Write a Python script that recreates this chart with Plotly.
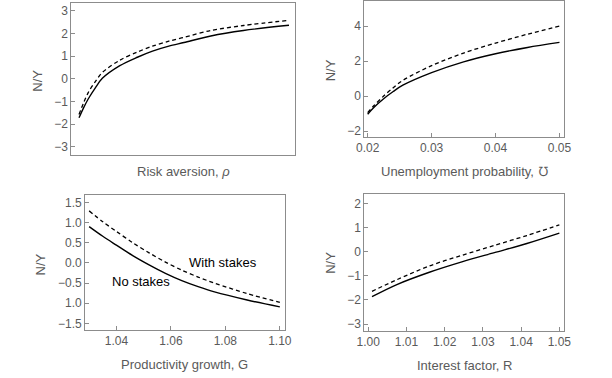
import plotly.graph_objects as go

# ---------------- data ----------------
rho = [1.0, 1.2, 1.4, 1.7, 2.0, 2.75, 3.5, 4.15, 4.85, 5.5, 6.65, 8.05, 10.0]
rho_no = [-1.72, -1.27, -0.88, -0.40, 0.02, 0.58, 0.95, 1.22, 1.44, 1.60, 1.89, 2.13, 2.36]
rho_with = [-1.57, -1.05, -0.60, -0.12, 0.28, 0.82, 1.18, 1.44, 1.66, 1.83, 2.13, 2.35, 2.58]

unemp = [0.020, 0.021, 0.0225, 0.024, 0.0255, 0.030, 0.035, 0.040, 0.045, 0.050]
unemp_no = [-1.04, -0.64, -0.15, 0.26, 0.62, 1.34, 1.96, 2.42, 2.78, 3.07]
unemp_with = [-0.95, -0.54, 0.00, 0.48, 0.90, 1.74, 2.46, 3.03, 3.54, 4.00]

growth = [1.030, 1.035, 1.040, 1.046, 1.052, 1.058, 1.064, 1.070, 1.076, 1.088, 1.100]
growth_no = [0.90, 0.66, 0.44, 0.18, -0.05, -0.26, -0.44, -0.59, -0.72, -0.92, -1.09]
growth_with = [1.29, 1.02, 0.78, 0.50, 0.25, 0.02, -0.18, -0.35, -0.50, -0.76, -0.98]

interest = [1.001, 1.0075, 1.016, 1.0245, 1.033, 1.0415, 1.050]
interest_no = [-1.86, -1.36, -0.85, -0.42, -0.04, 0.34, 0.77]
interest_with = [-1.64, -1.16, -0.59, -0.15, 0.26, 0.67, 1.11]

p1_yticks = [-3, -2, -1, 0, 1, 2, 3]
p2_xticks = [0.02, 0.03, 0.04, 0.05]
p2_xticklabels = ["0.02", "0.03", "0.04", "0.05"]
p2_yticks = [-2, 0, 2, 4]
p3_xticks = [1.04, 1.06, 1.08, 1.10]
p3_xticklabels = ["1.04", "1.06", "1.08", "1.10"]
p3_yticks = [-1.5, -1.0, -0.5, 0.0, 0.5, 1.0, 1.5]
p3_yticklabels = ["\u22121.5", "1.0", "\u22120.5", "0.0", "0.5", "1.0", "1.5"]
p4_xticks = [1.00, 1.01, 1.02, 1.03, 1.04, 1.05]
p4_xticklabels = ["1.00", "1.01", "1.02", "1.03", "1.04", "1.05"]
p4_yticks = [-3, -2, -1, 0, 1, 2]

W, H = 612, 378
FONT = "Liberation Sans, Arial, Helvetica, sans-serif"
GRAY = "#5a5a5a"
FRAME = "#8c8c8c"

fig = go.Figure()

panels = [
    (rho, rho_no, rho_with, "x", "y"),
    (unemp, unemp_no, unemp_with, "x2", "y2"),
    (growth, growth_no, growth_with, "x3", "y3"),
    (interest, interest_no, interest_with, "x4", "y4"),
]
for xs, yn, yw, xa, ya in panels:
    fig.add_trace(go.Scatter(x=xs, y=yn, mode="lines", xaxis=xa, yaxis=ya,
                             line=dict(color="black", width=1.4, shape="spline", smoothing=0.9),
                             showlegend=False, hoverinfo="skip"))
    fig.add_trace(go.Scatter(x=xs, y=yw, mode="lines", xaxis=xa, yaxis=ya,
                             line=dict(color="black", width=1.3, shape="spline", smoothing=0.9,
                                       dash="4px,3px"),
                             showlegend=False, hoverinfo="skip"))


def px_x(a, b):
    return [a / W, b / W]


def px_y(top, bottom):
    return [1 - bottom / H, 1 - top / H]


common = dict(showgrid=False, zeroline=False, showline=True, mirror=True,
              linecolor=FRAME, linewidth=1, ticks="inside", ticklen=4,
              tickcolor=FRAME, tickwidth=1,
              tickfont=dict(family=FONT, size=12, color=GRAY))

fig.update_layout(
    width=W, height=H, margin=dict(l=0, r=0, t=0, b=0),
    paper_bgcolor="white", plot_bgcolor="white",
    font=dict(family=FONT, size=12, color=GRAY),
    xaxis=dict(domain=px_x(65, 294), range=[0.674, 10.25], anchor="y",
               **{**common, "ticks": "", "showticklabels": False}),
    yaxis=dict(domain=px_y(2.3, 155), range=[-3.35, 3.33], anchor="x",
               tickvals=p1_yticks, **common),
    xaxis2=dict(domain=px_x(365.3, 570.3), range=[0.01948, 0.05076], anchor="y2",
                tickvals=p2_xticks, ticktext=p2_xticklabels, **common),
    yaxis2=dict(domain=px_y(0.5, 136.7), range=[-2.32, 5.41], anchor="x2",
                tickvals=p2_yticks, **common),
    xaxis3=dict(domain=px_x(79, 283.7), range=[1.0285, 1.1018], anchor="y3",
                tickvals=p3_xticks, ticktext=p3_xticklabels, **common),
    yaxis3=dict(domain=px_y(195.7, 331.7), range=[-1.665, 1.68], anchor="x3",
                tickvals=p3_yticks, ticktext=p3_yticklabels, **common),
    xaxis4=dict(domain=px_x(365.3, 570.3), range=[0.999, 1.0513], anchor="y4",
                tickvals=p4_xticks, ticktext=p4_xticklabels, **common),
    yaxis4=dict(domain=px_y(195, 332.3), range=[-3.27, 2.37], anchor="x4",
                tickvals=p4_yticks, **common),
)

titles = [
    ("Risk aversion, <i>\u03c1</i>", 180, 172),
    ("Unemployment probability, \u2127", 467.7, 172.3),
    ("Productivity growth, G", 181, 366.3),
    ("Interest factor, R", 467.7, 367.3),
]
for text, cx, cy in titles:
    fig.add_annotation(text=text, x=cx / W, y=1 - cy / H, xref="paper", yref="paper",
                       showarrow=False, xanchor="center", yanchor="middle",
                       font=dict(family=FONT, size=13, color=GRAY))

ylabels = [(30, 80), (331, 70), (33.3, 265), (331, 264)]
for cx, cy in ylabels:
    fig.add_annotation(text="N/Y", x=cx / W, y=1 - cy / H, xref="paper", yref="paper",
                       showarrow=False, xanchor="center", yanchor="middle", textangle=-90,
                       font=dict(family=FONT, size=13, color=GRAY))

fig.add_annotation(text="With stakes", x=1.0793, y=0.02, xref="x3", yref="y3",
                   showarrow=False, xanchor="center", yanchor="middle",
                   font=dict(family=FONT, size=13, color="black"))
fig.add_annotation(text="No stakes", x=1.0491, y=-0.45, xref="x3", yref="y3",
                   showarrow=False, xanchor="center", yanchor="middle",
                   font=dict(family=FONT, size=13, color="black"))

fig.write_html("out.html", config={"displayModeBar": False},
               post_script="document.body.style.margin='0px';document.body.style.overflow='hidden';")
